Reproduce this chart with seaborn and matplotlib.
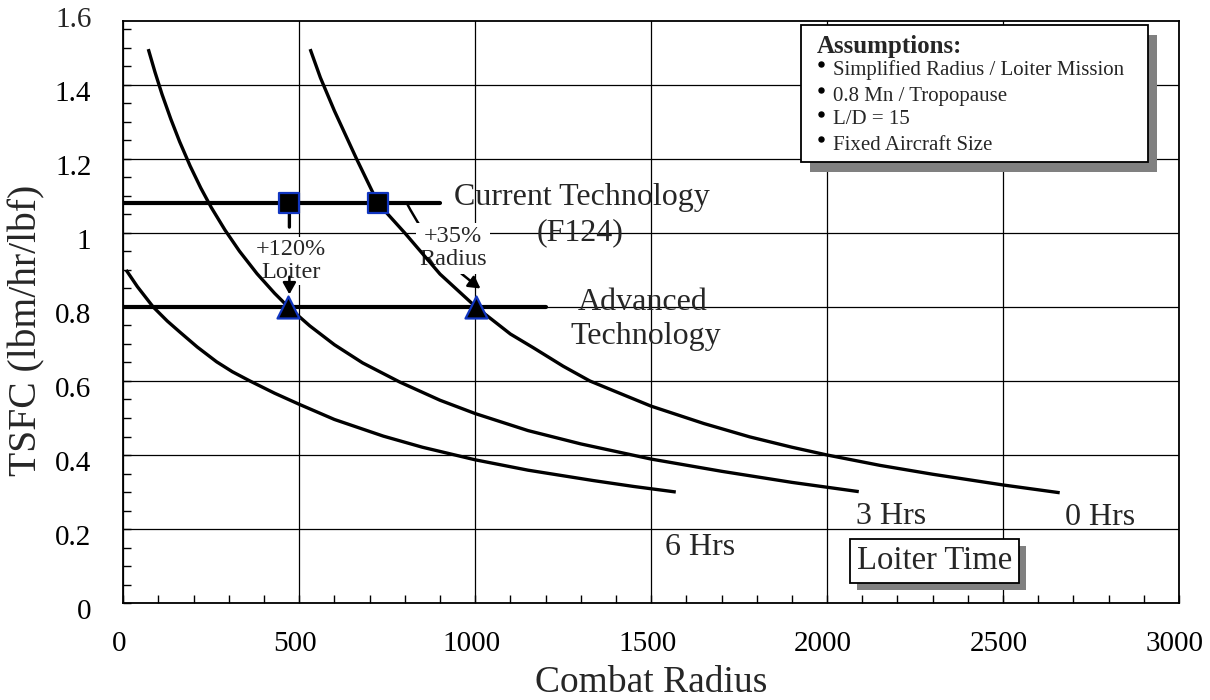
import matplotlib
matplotlib.use("Agg")
import matplotlib.pyplot as plt
import matplotlib.transforms as mtransforms
import matplotlib.patheffects as pe
from matplotlib.patches import Rectangle
from matplotlib.lines import Line2D
from matplotlib.ticker import MultipleLocator
import seaborn as sns

# ---------------- data ----------------
radius_0hr = [531, 560, 600, 663, 724, 800, 900, 1002, 1100, 1165, 1250, 1326, 1400, 1500,
              1650, 1780, 1900, 2000, 2150, 2300, 2500, 2661]
tsfc_0hr = [1.497, 1.42, 1.33, 1.20, 1.08, 1.00, 0.889, 0.80, 0.727, 0.69, 0.64, 0.60, 0.571, 0.532,
            0.485, 0.449, 0.421, 0.40, 0.372, 0.348, 0.319, 0.298]

radius_3hr = [71, 90, 110, 135, 160, 190, 220, 250, 289, 330, 380, 430, 469, 530, 600, 680,
              786, 900, 1000, 1150, 1300, 1500, 1700, 1900, 2090]
tsfc_3hr = [1.497, 1.435, 1.375, 1.308, 1.247, 1.181, 1.122, 1.069, 1.008, 0.951, 0.890, 0.837,
            0.800, 0.749, 0.698, 0.649, 0.597, 0.548, 0.512, 0.466, 0.430, 0.389, 0.356, 0.326, 0.301]

radius_6hr = [8, 40, 85, 125, 161, 210, 265, 310, 360, 430, 500, 600, 739, 850, 1000, 1150,
              1335, 1450, 1570]
tsfc_6hr = [0.90, 0.855, 0.80, 0.762, 0.732, 0.692, 0.652, 0.625, 0.60, 0.567, 0.537, 0.496,
            0.451, 0.421, 0.387, 0.359, 0.331, 0.315, 0.30]

current_tech_x = [0, 900]
current_tech_y = [1.08, 1.08]
advanced_tech_x = [0, 1200]
advanced_tech_y = [0.80, 0.80]

square_x = [472, 724]
square_y = [1.08, 1.08]
triangle_x = [469, 1003]
triangle_y = [0.80, 0.80]

xticks = [0, 500, 1000, 1500, 2000, 2500, 3000]
yticks = [0, 0.2, 0.4, 0.6, 0.8, 1.0, 1.2, 1.4]
ytick_labels = ["0", "0.2", "0.4", "0.6", "0.8", "1", "1.2", "1.4"]

assumptions = ["Simplified Radius / Loiter Mission", "0.8 Mn / Tropopause",
               "L/D = 15", "Fixed Aircraft Size"]

# ---------------- style ----------------
sns.set_style("white")
plt.rcParams["font.family"] = ["Liberation Serif", "DejaVu Serif"]

W, H = 1210, 700
fig = plt.figure(figsize=(W / 100, H / 100), dpi=100)
fig.patch.set_facecolor("white")
ax_l, ax_r, ax_t, ax_b = 123.3, 1179.0, 20.7, 603.0
ax = fig.add_axes([ax_l / W, 1 - ax_b / H, (ax_r - ax_l) / W, (ax_b - ax_t) / H])
ax.set_facecolor("white")

# curves
curve_kw = dict(color="black", linewidth=2.4, sort=False, estimator=None, zorder=5, ax=ax)
for xs, ys in [(radius_0hr, tsfc_0hr), (radius_3hr, tsfc_3hr), (radius_6hr, tsfc_6hr)]:
    sns.lineplot(x=xs, y=ys, **curve_kw)
for line in ax.get_lines():
    line.set_solid_joinstyle("round")
    line.set_solid_capstyle("butt")

hline_kw = dict(color="black", linewidth=3.0, sort=False, estimator=None, zorder=4, ax=ax)
sns.lineplot(x=current_tech_x, y=current_tech_y, **hline_kw)
sns.lineplot(x=advanced_tech_x, y=advanced_tech_y, **hline_kw)

# arrows
ax.annotate("", xy=(472, 1.016), xytext=(472, 1.08),
            arrowprops=dict(arrowstyle="-", color="black", lw=2.4,
                            shrinkA=0, shrinkB=0), zorder=3)
ax.annotate("", xy=(472, 0.834), xytext=(472, 0.882),
            arrowprops=dict(arrowstyle="-|>,head_length=0.5,head_width=0.28",
                            color="black", lw=1.8, shrinkA=0, shrinkB=0,
                            mutation_scale=14), zorder=6)
ax.annotate("", xy=(1015, 0.850), xytext=(806, 1.08),
            arrowprops=dict(arrowstyle="-|>,head_length=0.5,head_width=0.28",
                            color="black", lw=1.8, shrinkA=0, shrinkB=0,
                            mutation_scale=14,
                            connectionstyle="arc3,rad=0.12"), zorder=3)

# markers
sns.scatterplot(x=square_x, y=square_y, marker="s", s=210, color="black",
                edgecolor="#1035c0", linewidth=1.6, zorder=7, ax=ax)
sns.scatterplot(x=triangle_x, y=triangle_y, marker="^", s=250, color="black",
                edgecolor="#1035c0", linewidth=1.6, zorder=7, ax=ax)

# axes setup
ax.set_xlim(0, 3000)
ax.set_ylim(0, (ax_b - ax_t) / 370.0)
ax.set_xticks(xticks)
ax.set_xticklabels([str(v) for v in xticks])
ax.set_yticks(yticks)
ax.set_yticklabels(ytick_labels)
ax.xaxis.set_minor_locator(MultipleLocator(100))
ax.yaxis.set_minor_locator(MultipleLocator(0.05))
ax.tick_params(which="both", direction="in", length=5.5, width=1.0, color="black",
               top=False, right=False, bottom=True, left=True)
tick_fs = 21
ax.tick_params(axis="y", which="major", pad=23, labelsize=tick_fs, labelcolor="black")
ax.tick_params(axis="x", which="major", pad=20.5, labelsize=tick_fs, labelcolor="black")
ax.grid(which="major", color="black", linewidth=0.9, zorder=0)
ax.set_axisbelow(True)
for sp in ax.spines.values():
    sp.set_color("black")
    sp.set_linewidth(1.3)

off_y = mtransforms.ScaledTranslation(0, -6 / 100, fig.dpi_scale_trans)
off_x = mtransforms.ScaledTranslation(-4 / 100, 0, fig.dpi_scale_trans)
for lbl in ax.get_yticklabels():
    lbl.set_transform(lbl.get_transform() + off_y)
for lbl in ax.get_xticklabels():
    lbl.set_transform(lbl.get_transform() + off_x)
ax.text(-(23 * 100 / 72) / (ax_r - ax_l), 1.6, "1.6", fontsize=tick_fs, ha="right",
        va="center_baseline",
        transform=mtransforms.blended_transform_factory(ax.transAxes, ax.transData) + off_y,
        clip_on=False)

ax.set_xlabel("Combat Radius", fontsize=27, va="center")
ax.xaxis.set_label_coords(0.5, -(683 - ax_b) / (ax_b - ax_t))
ax.set_ylabel("TSFC (lbm/hr/lbf)", fontsize=28.5, va="center")
ax.yaxis.set_label_coords((27 - ax_l) / (ax_r - ax_l), 1 - (330 - ax_t) / (ax_b - ax_t))

# text annotations
big = 23
ax.text(1303, 1.097, "Current Technology", fontsize=big, ha="center", va="center", zorder=2)
ax.text(1297, 1.0, "(F124)", fontsize=big, ha="center", va="center", zorder=2)
ax.text(1477, 0.811, "Advanced", fontsize=big, ha="center", va="center", zorder=2)
ax.text(1486, 0.719, "Technology", fontsize=big, ha="center", va="center", zorder=2)
ax.text(1638, 0.149, "6 Hrs", fontsize=big, ha="center", va="center")
ax.text(2182, 0.233, "3 Hrs", fontsize=big, ha="center", va="center")
ax.text(2775, 0.232, "0 Hrs", fontsize=big, ha="center", va="center")

ax.text(476, 0.924, "+120%\nLoiter", fontsize=17.5, ha="center", va="center",
        linespacing=1.1, zorder=4,
        bbox=dict(boxstyle="square,pad=0.1", fc="white", ec="none"))
ax.text(937, 0.959, "+35%\nRadius", fontsize=17.5, ha="center", va="center",
        linespacing=1.1, zorder=4,
        bbox=dict(boxstyle="square,pad=0.15", fc="white", ec="none"))

lt = ax.text(2305, 0.1135, "Loiter Time", fontsize=23.5, ha="center", va="center", zorder=8,
             bbox=dict(boxstyle="square,pad=0.2", fc="white", ec="black", lw=1.3))
lt.get_bbox_patch().set_path_effects([
    pe.SimplePatchShadow(offset=(5, -5), shadow_rgbFace="#808080", alpha=1.0),
    pe.Normal()])

# assumptions box (figure pixel layout)
bx0, by0, bx1, by1 = 800.7, 25.0, 1148.3, 161.7
fig.add_artist(Rectangle(((bx0 + 9) / W, 1 - (by1 + 10) / H), (bx1 - bx0) / W, (by1 - by0) / H,
                         transform=fig.transFigure, fc="#808080", ec="none", zorder=3))
fig.add_artist(Rectangle((bx0 / W, 1 - by1 / H), (bx1 - bx0) / W, (by1 - by0) / H,
                         transform=fig.transFigure, fc="white", ec="black", lw=1.3, zorder=4))
fig.text(816.7 / W, 1 - 46.5 / H, "Assumptions:", fontsize=18, fontweight="bold",
         ha="left", va="center", zorder=5)
for line, yc in zip(assumptions, [70, 96, 120, 145]):
    fig.add_artist(Line2D([820.7 / W], [1 - (yc - 6.5) / H], marker="o", markersize=3.6,
                          color="black", linestyle="none", transform=fig.transFigure, zorder=5))
    fig.text(833 / W, 1 - yc / H, line, fontsize=15, ha="left", va="center", zorder=5)

fig.savefig("out.png", dpi=100, facecolor="white")
